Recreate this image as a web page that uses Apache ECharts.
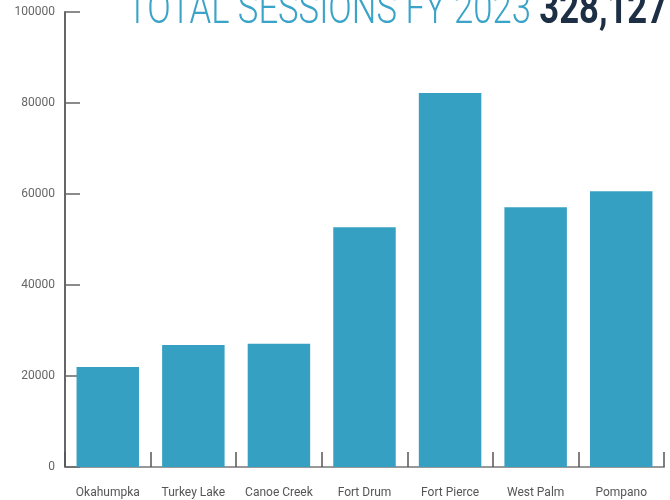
<!DOCTYPE html>
<html>
<head>
<meta charset="utf-8" />
<title>Total Sessions FY 2023</title>
<script src="https://cdn.jsdelivr.net/npm/echarts@6/dist/echarts.min.js"></script>
<style>
  html, body { margin: 0; padding: 0; background: #fff; }
</style>
</head>
<body>
<div id="main" style="width: 670px;height:500px;"></div>
<script>
    var categories = ['Okahumpka', 'Turkey Lake', 'Canoe Creek', 'Fort Drum', 'Fort Pierce', 'West Palm', 'Pompano'];
    var sessions = [22000, 26800, 27100, 52700, 82200, 57100, 60600];
    var titleText = 'TOTAL SESSIONS FY 2023 ';
    var totalLabel = '328,127';

    var myChart = echarts.init(document.getElementById('main'));

    // title font is condensed in the original, so squeeze it to the same width
    var titleSize = 44;
    var fontA = '300 ' + titleSize + 'px Roboto';
    var fontB = 'bold ' + titleSize + 'px Roboto';
    var ctx = document.createElement('canvas').getContext('2d');
    ctx.font = fontA;
    var wA = ctx.measureText(titleText).width;
    ctx.font = fontB;
    var wB = ctx.measureText(totalLabel).width;
    var squeeze = 540 / (wA + wB);

    var option = {
        animation: false,
        graphic: [{
            type: 'text',
            x: 127,
            y: 34,
            scaleX: squeeze,
            style: {
                text: '{a|' + titleText + '}{b|' + totalLabel + '}',
                verticalAlign: 'bottom',
                rich: {
                    a: {
                        fontFamily: 'Roboto',
                        fontSize: titleSize,
                        fontWeight: 300,
                        lineHeight: titleSize,
                        fill: '#3aa3c8'
                    },
                    b: {
                        fontFamily: 'Roboto',
                        fontSize: titleSize,
                        fontWeight: 'bold',
                        lineHeight: titleSize,
                        fill: '#1c2f45'
                    }
                }
            }
        }],
        grid: {
            left: 65,
            right: 6,
            top: 12,
            bottom: 33,
            containLabel: false
        },
        xAxis: {
            type: 'category',
            data: categories,
            axisLine: { lineStyle: { color: '#999', width: 2 } },
            axisTick: { show: true, inside: true, length: 15, lineStyle: { color: '#555', width: 1.5 } },
            axisLabel: {
                interval: 0,
                margin: 20,
                color: '#555',
                fontSize: 12,
                fontFamily: 'Roboto, sans-serif'
            }
        },
        yAxis: {
            type: 'value',
            min: 0,
            max: 100000,
            interval: 20000,
            splitLine: { show: false },
            axisLine: { show: true, lineStyle: { color: '#666', width: 2 } },
            axisTick: { show: true, inside: true, length: 15, lineStyle: { color: '#666', width: 1.5 } },
            axisLabel: {
                margin: 10,
                color: '#666',
                fontSize: 12,
                fontFamily: 'Roboto, sans-serif',
                formatter: function (v) { return String(v); }
            }
        },
        series: [{
            type: 'bar',
            data: sessions,
            barCategoryGap: '27%',
            itemStyle: { color: '#35a0c1' }
        }]
    };

    myChart.setOption(option);
</script>
</body>
</html>
